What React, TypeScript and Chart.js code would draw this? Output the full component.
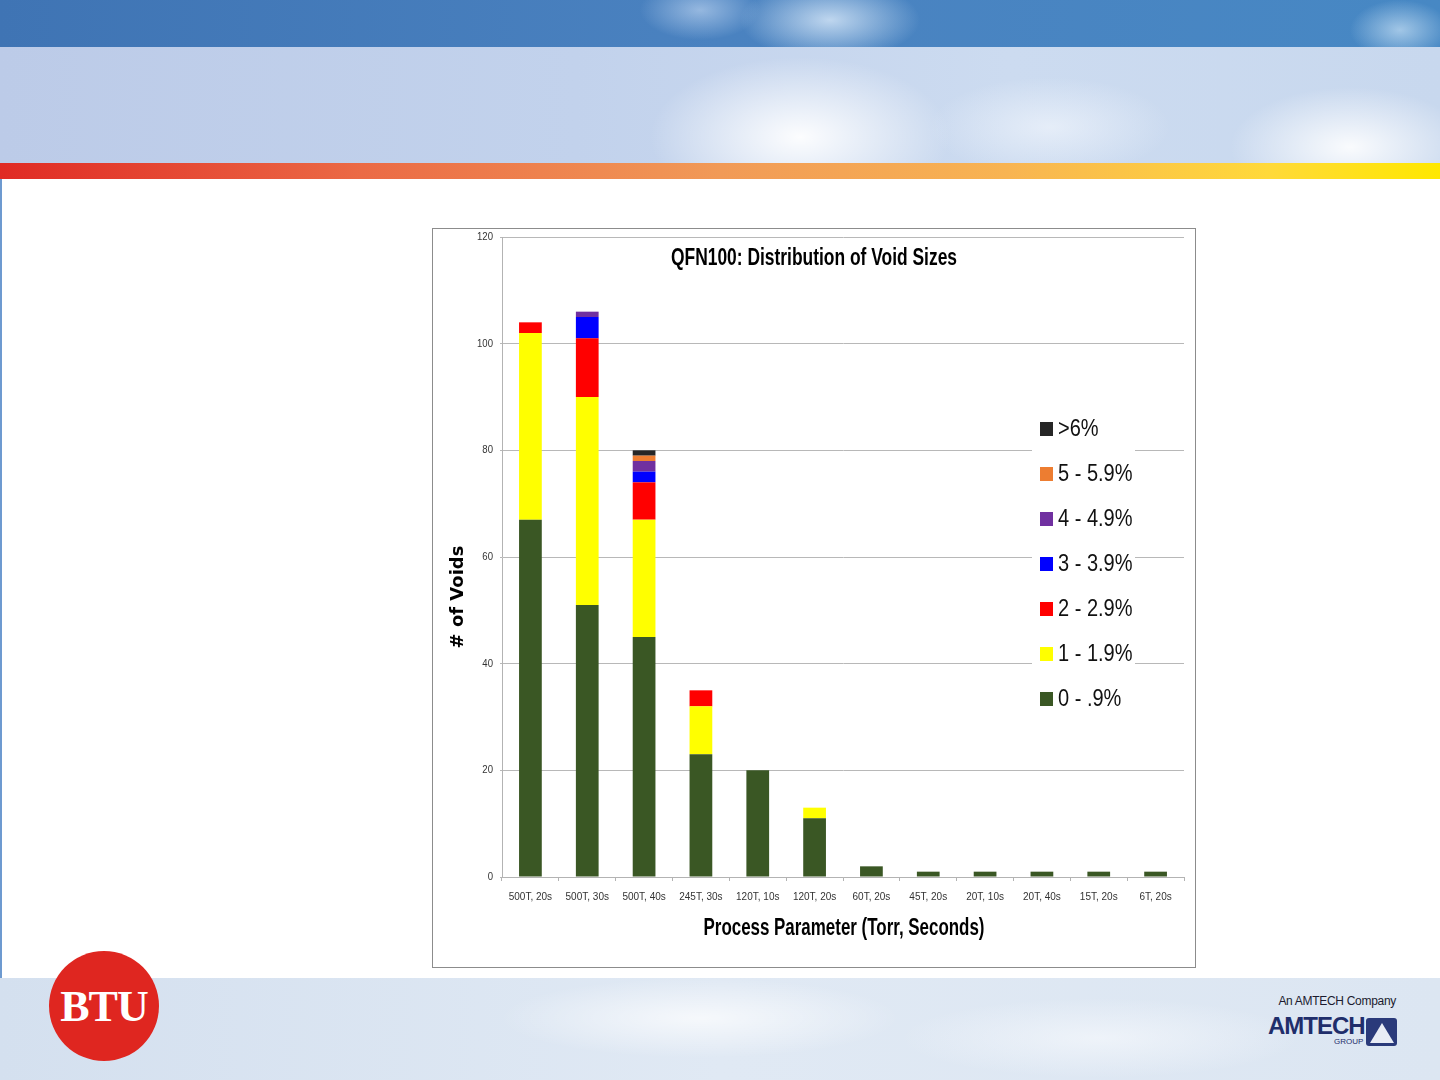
import React, { useEffect, useRef } from 'react';
import { Chart, registerables } from 'chart.js';

Chart.register(...registerables);

// chart data
const categories = ['500T, 20s', '500T, 30s', '500T, 40s', '245T, 30s', '120T, 10s', '120T, 20s', '60T, 20s', '45T, 20s', '20T, 10s', '20T, 40s', '15T, 20s', '6T, 20s'];
const seriesNames = ['0 - .9%', '1 - 1.9%', '2 - 2.9%', '3 - 3.9%', '4 - 4.9%', '5 - 5.9%', '>6%'];
const seriesColors = ['#3a5724', '#ffff00', '#ff0000', '#0000ff', '#7030a0', '#ed7d31', '#262626'];
const voids0 = [67, 51, 45, 23, 20, 11, 2, 1, 1, 1, 1, 1];
const voids1 = [35, 39, 22, 9, 0, 2, 0, 0, 0, 0, 0, 0];
const voids2 = [2, 11, 7, 3, 0, 0, 0, 0, 0, 0, 0, 0];
const voids3 = [0, 4, 2, 0, 0, 0, 0, 0, 0, 0, 0, 0];
const voids4 = [0, 1, 2, 0, 0, 0, 0, 0, 0, 0, 0, 0];
const voids5 = [0, 0, 1, 0, 0, 0, 0, 0, 0, 0, 0, 0];
const voids6 = [0, 0, 1, 0, 0, 0, 0, 0, 0, 0, 0, 0];
const yTicks = [0, 20, 40, 60, 80, 100, 120];

const SANS = "'Liberation Sans', Arial, sans-serif";
const NARROW = 0.87; // horizontal squeeze, no condensed face installed

// text squeezed horizontally; fit > 0 forces the width instead
function squeezed(ctx: any, s: string, x: number, y: number, font: string, sx: number, align: string, fit = 0) {
  ctx.save();
  ctx.font = font;
  const k = fit ? fit / ctx.measureText(s).width : sx;
  ctx.translate(x, y);
  ctx.scale(k, 1);
  ctx.textAlign = align;
  ctx.textBaseline = 'middle';
  ctx.fillText(s, 0, 0);
  ctx.restore();
}

const overlay = {
  id: 'overlay',
  afterDraw(chart: any) {
    const { ctx, chartArea, width } = chart;
    const xs = chart.scales.x;
    const ys = chart.scales.y;
    ctx.save();
    // tick labels
    ctx.fillStyle = '#333';
    ys.ticks.forEach((t: any) => {
      squeezed(ctx, String(t.value), chartArea.left - 9, ys.getPixelForValue(t.value), `11px ${SANS}`, NARROW, 'right');
    });
    chart.data.labels.forEach((lab: string, i: number) => {
      squeezed(ctx, lab, xs.getPixelForValue(i), chartArea.bottom + 20, `11.5px ${SANS}`, NARROW, 'center');
    });
    // titles
    ctx.fillStyle = '#000';
    squeezed(ctx, 'QFN100: Distribution of Void Sizes', width / 2, chartArea.top + 22, `bold 23px ${SANS}`, 1, 'center', 286);
    squeezed(ctx, 'Process Parameter (Torr, Seconds)', (chartArea.left + chartArea.right) / 2 + 1, chartArea.bottom + 52, `bold 23px ${SANS}`, 1, 'center', 281);
    ctx.save();
    ctx.translate(25, chartArea.top + 360);
    ctx.rotate(-Math.PI / 2);
    ctx.font = "bold 18px 'DejaVu Sans', Verdana, sans-serif";
    ctx.textAlign = 'center';
    ctx.textBaseline = 'middle';
    ctx.fillText('# of Voids', 0, 0);
    ctx.restore();
    // legend, reversed like the stack
    const lx = chartArea.right - 144;
    const ly = chartArea.top + 192;
    ctx.fillStyle = '#fff';
    ctx.fillRect(lx - 8, ly - 18, 103, 308);
    chart.data.datasets.slice().reverse().forEach((ds: any, i: number) => {
      const y = ly + i * 45;
      ctx.fillStyle = ds.backgroundColor;
      ctx.fillRect(lx, y - 7, 13, 14);
      ctx.fillStyle = '#111';
      squeezed(ctx, ds.label, lx + 18, y + 1, `23px ${SANS}`, NARROW, 'left');
    });
    ctx.restore();
  },
};

function VoidChart() {
  const canvasRef = useRef<HTMLCanvasElement>(null);

  useEffect(() => {
    if (!canvasRef.current) return;
    const values = [voids0, voids1, voids2, voids3, voids4, voids5, voids6];
    const chart = new Chart(canvasRef.current, {
      type: 'bar',
      data: {
        labels: categories,
        datasets: values.map((v, i) => ({
          label: seriesNames[i],
          data: v,
          backgroundColor: seriesColors[i],
          borderWidth: 0,
          barPercentage: 0.4,
          categoryPercentage: 1,
        })),
      },
      options: {
        responsive: true,
        maintainAspectRatio: false,
        animation: false,
        layout: { padding: { top: 8, right: 11, left: 0, bottom: 0 } },
        plugins: { legend: { display: false }, title: { display: false }, tooltip: { enabled: false } },
        scales: {
          x: {
            stacked: true,
            afterFit: (s: any) => { s.height = 90; },
            grid: { drawOnChartArea: false, color: '#b3b3b3', tickLength: 4 },
            border: { color: '#b3b3b3' },
            ticks: { display: false, autoSkip: false },
          },
          y: {
            stacked: true,
            min: 0,
            max: 120,
            afterFit: (s: any) => { s.width = 69; },
            afterBuildTicks: (s: any) => { s.ticks = yTicks.map((v) => ({ value: v })); },
            grid: { color: '#b8b8b8', tickLength: 2 },
            border: { color: '#b3b3b3' },
            ticks: { display: false },
          },
        },
      },
      plugins: [overlay],
    });
    return () => chart.destroy();
  }, []);

  return (
    <div style={{ position: 'absolute', left: 432, top: 228, width: 764, height: 740, border: '1px solid #8c8c8c', boxSizing: 'border-box', background: '#fff' }}>
      <div style={{ position: 'relative', width: 762, height: 738 }}>
        <canvas ref={canvasRef}></canvas>
      </div>
    </div>
  );
}

export default function App() {
  return (
    <div style={{ position: 'fixed', left: 0, top: 0, width: 1440, height: 1080, overflow: 'hidden', background: '#fff', fontFamily: SANS }}>
      {/* sky header */}
      <div style={{
        position: 'absolute', left: 0, top: 0, width: 1440, height: 47,
        background: 'radial-gradient(ellipse 90px 40px at 830px 20px, rgba(220,235,250,0.8), transparent), radial-gradient(ellipse 60px 30px at 700px 10px, rgba(200,220,245,0.6), transparent), radial-gradient(ellipse 50px 30px at 1400px 30px, rgba(200,225,245,0.7), transparent), linear-gradient(90deg, #3f74b4, #4a82c0 50%, #4788c4)',
      }} />
      <div style={{
        position: 'absolute', left: 0, top: 47, width: 1440, height: 116,
        background: 'radial-gradient(ellipse 150px 80px at 800px 90px, rgba(255,255,255,0.95), transparent), radial-gradient(ellipse 120px 60px at 1350px 100px, rgba(255,255,255,0.9), transparent), radial-gradient(ellipse 120px 50px at 1050px 80px, rgba(240,245,252,0.7), transparent), linear-gradient(90deg, #bccbe8, #c2d2ec 40%, #ccdbf0 70%, #c8d8ee)',
      }} />
      <div style={{ position: 'absolute', left: 0, top: 163, width: 1440, height: 16, background: 'linear-gradient(90deg, #e02a24, #eb6a45 25%, #f19a57 50%, #f8b452 70%, #ffd93a 88%, #ffe800)' }} />
      <div style={{ position: 'absolute', left: 0, top: 179, width: 2, height: 800, background: '#6d9ad0' }} />
      {/* footer */}
      <div style={{
        position: 'absolute', left: 0, top: 978, width: 1440, height: 102,
        background: 'radial-gradient(ellipse 200px 40px at 700px 40px, rgba(255,255,255,0.7), transparent), radial-gradient(ellipse 200px 40px at 1100px 60px, rgba(245,248,252,0.7), transparent), linear-gradient(90deg, #d4e0ef, #e0e9f4 50%, #dce6f2)',
      }} />
      <div style={{ position: 'absolute', left: 49, top: 951, width: 110, height: 110, borderRadius: '50%', background: '#df2620', color: '#fff', display: 'flex', alignItems: 'center', justifyContent: 'center', fontFamily: "'Liberation Serif', 'DejaVu Serif', serif", fontWeight: 'bold', fontSize: 44, letterSpacing: -1 }}>BTU</div>
      <div style={{ position: 'absolute', left: 1256, top: 994, width: 140, textAlign: 'right', fontSize: 12, letterSpacing: -0.3, color: '#1b1b2e' }}>An AMTECH Company</div>
      <div style={{ position: 'absolute', left: 1268, top: 1012, fontSize: 24, fontWeight: 'bold', color: '#1f2e6b', letterSpacing: -1 }}>AMTECH</div>
      <div style={{ position: 'absolute', left: 1334, top: 1037, fontSize: 8, color: '#1f2e6b' }}>GROUP</div>
      <div style={{ position: 'absolute', left: 1366, top: 1018, width: 31, height: 28, borderRadius: 3, background: '#2a3a7a', overflow: 'hidden' }}>
        <div style={{ position: 'absolute', left: 4, top: 5, width: 0, height: 0, borderLeft: '12px solid transparent', borderRight: '12px solid transparent', borderBottom: '20px solid #e8ecf5' }} />
      </div>
      <VoidChart />
    </div>
  );
}
